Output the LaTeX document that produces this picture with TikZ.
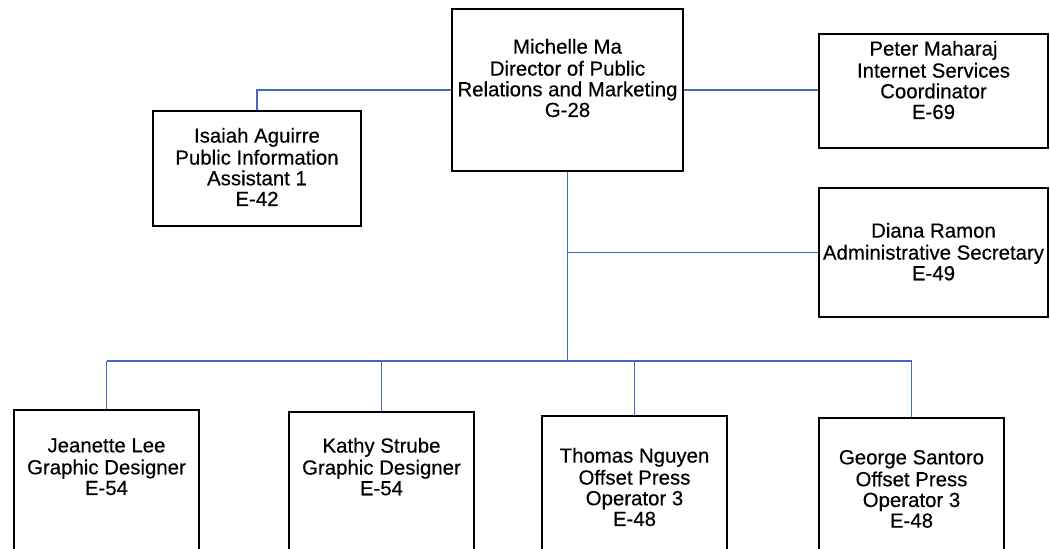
\documentclass[tikz,border=0pt]{standalone}
\usepackage{fontspec}
\setmainfont{Liberation Sans}
\newfontfamily\orgfont{Liberation Sans}[FakeBold=0.4]
\usetikzlibrary{positioning}
\definecolor{linkblue}{RGB}{70,105,190}

\begin{document}
\begin{tikzpicture}[x=1pt, y=-1pt,
	box/.style={draw=black, line width=1.8pt, inner sep=0pt},
	txt/.style={align=center, inner sep=0pt, font=\orgfont\fontsize{20.4}{20.7}\selectfont},
	link/.style={draw=linkblue, line width=1.5pt}]
	\useasboundingbox (0,0) rectangle (1050,549);
	
	\node[box, minimum width=231, minimum height=162] (ma) at (567.5, 90) {};
	\node[box, minimum width=208, minimum height=115] (aguirre) at (257, 168.5) {};
	\node[box, minimum width=229, minimum height=114] (maharaj) at (933.5, 91) {};
	\node[box, minimum width=229, minimum height=129] (ramon) at (933.5, 252.5) {};
	\node[box, minimum width=185, minimum height=150] (lee) at (106.5, 485) {};
	\node[box, minimum width=185, minimum height=150] (strube) at (381.5, 487) {};
	\node[box, minimum width=185, minimum height=150] (nguyen) at (634.5, 491) {};
	\node[box, minimum width=185, minimum height=150] (santoro) at (911.5, 493) {};
	
	\node[txt, below=30.5pt of ma.north] (tma) {\strut Michelle Ma\\Director of Public\\Relations and Marketing\\G-28};
	\node[txt, below=17.5pt of aguirre.north] (taguirre) {\strut Isaiah Aguirre\\Public Information\\Assistant 1\\E-42};
	\node[txt, below=7.5pt of maharaj.north] (tmaharaj) {\strut Peter Maharaj\\Internet Services\\Coordinator\\E-69};
	\node[txt, below=35.5pt of ramon.north] (tramon) {\strut Diana Ramon\\Administrative Secretary\\E-49};
	\node[txt, below=28.5pt of lee.north] (tlee) {\strut Jeanette Lee\\Graphic Designer\\E-54};
	\node[txt, below=26.5pt of strube.north] (tstrube) {\strut Kathy Strube\\Graphic Designer\\E-54};
	\node[txt, below=32.5pt of nguyen.north] (tnguyen) {\strut Thomas Nguyen\\Offset Press\\Operator 3\\E-48};
	\node[txt, below=32.5pt of santoro.north] (tsantoro) {\strut George Santoro\\Offset Press\\Operator 3\\E-48};
	
	\coordinate (bus) at (567.5, 361);
	\draw[link] (ma.west) -| (aguirre.north);
	\draw[link] (ma.east) -- (ma.east -| maharaj.west);
	\draw[link] (ma.south) -- (bus);
	\draw[link] (ramon.west) -- (ramon.west -| ma.south);
	\draw[link] (lee.north |- bus) -- (santoro.north |- bus);
	\foreach \n in {lee, strube, nguyen, santoro}
		\draw[link] (\n.north) -- (\n.north |- bus);
\end{tikzpicture}
\end{document}
